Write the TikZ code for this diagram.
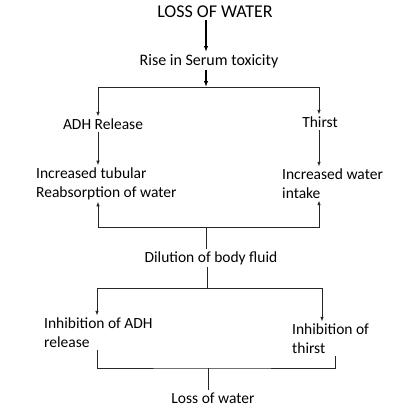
\documentclass[tikz,border=0pt]{standalone}
\usepackage{fontspec}
\setmainfont{Carlito}
\usetikzlibrary{arrows.meta}
\tikzset{
  lbl/.style={inner sep=2pt,font=\fontsize{15.5}{19}\selectfont},
  lblL/.style={lbl,anchor=west,align=left},
  ln/.style={line width=0.8pt,draw=black!85},
  arr/.style={ln,-{Latex[length=4.5pt,width=3.5pt]}},
  bigarr/.style={line width=1.6pt,-{Latex[length=6pt,width=4.5pt]}}
}
\begin{document}
\begin{tikzpicture}[x=1pt,y=-1pt]
 \useasboundingbox (0,0) rectangle (417,410);
 \node[lbl,font=\fontsize{18}{19}\selectfont] (loss) at (215,12) {LOSS OF WATER};
 \node[lbl,font=\fontsize{16}{19}\selectfont] (rise) at (209,61) {Rise in Serum toxicity};
 \node[lbl] (adh) at (103,124) {ADH Release};
 \node[lbl] (thirst) at (320,122) {Thirst};
 \node[lblL] (reab) at (34,183.5) {Increased tubular\\Reabsorption of water};
 \node[lblL] (intake) at (280,183.5) {Increased water\\intake};
 \node[lbl] (dil) at (211,258) {Dilution of body fluid};
 \node[lblL] (inhadh) at (42,332.5) {Inhibition of ADH\\release};
 \node[lblL] (inhth) at (290,338.5) {Inhibition of\\thirst};
 \node[lbl] (lw) at (213,398) {Loss of water};
 \coordinate (s1) at (206,87);
 \coordinate (a1) at (98,87);
 \coordinate (b1) at (319,87);
 \coordinate (s2) at (206,227);
 \coordinate (s3) at (207,288);
 \coordinate (a3) at (97,288);
 \coordinate (b3) at (322,288);
 \coordinate (s4) at (208,368);
 \coordinate (a4) at (97,368);
 \coordinate (b4) at (335,368);
 % first steps
 \draw[bigarr] (loss.south -| s1) -- (rise.north -| s1);
 \draw[bigarr] (rise.south -| s1) -- (s1);
 % split to ADH and thirst
 \draw[ln] (a1) -- (b1);
 \draw[arr] (a1) -- (adh.north -| a1);
 \draw[arr] (b1) -- (thirst.north -| b1);
 \draw[arr] (adh.south -| a1) -- (reab.north -| a1);
 \draw[arr] (thirst.south -| b1) -- (intake.north -| b1);
 % dilution feeds back
 \draw[ln] (dil.north -| s2) -- (s2);
 \draw[arr] (s2) -| (reab.south -| a1);
 \draw[arr] (s2) -| (intake.south -| b1);
 % inhibition
 \draw[ln] (dil.south -| s3) -- (s3);
 \draw[arr] (s3) -| (inhadh.north -| a3);
 \draw[arr] (s3) -| (inhth.north -| b3);
 \draw[ln] (inhadh.south -| a4) |- (s4) -| (inhth.south -| b4);
 \draw[ln] (s4) -- (lw.north -| s4);
\end{tikzpicture}
\end{document}
